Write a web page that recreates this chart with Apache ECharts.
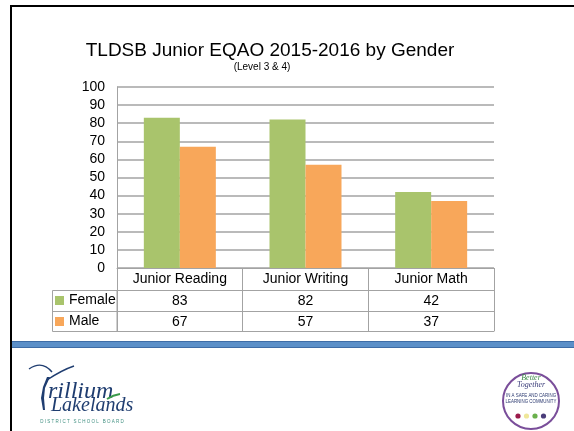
<!DOCTYPE html>
<html>
<head>
<meta charset="utf-8">
<script src="https://cdn.jsdelivr.net/npm/echarts@6/dist/echarts.min.js"></script>
<style>html,body{margin:0;padding:0;background:#fff;}#c{width:574px;height:431px;}</style>
</head>
<body>
<div id="c"></div>
<script>
const titleText = 'TLDSB Junior EQAO 2015-2016 by Gender';
const subtitleText = '(Level 3 & 4)';
const categories = ['Junior Reading', 'Junior Writing', 'Junior Math'];
const seriesNames = ['Female', 'Male'];
const female = [83, 82, 42];
const male = [67, 57, 37];
const yMin = 0, yMax = 100, yStep = 10;

const FONT = '"Liberation Sans", Arial, sans-serif';
const SERIF = '"Liberation Serif", "DejaVu Serif", serif';
const GRID = '#a3a3a3';
const chart = echarts.init(document.getElementById('c'), null, {renderer: 'canvas'});

function tableAxis(offset, values) {
  return {
    type: 'category', gridIndex: 0, position: 'bottom', offset: offset,
    data: categories,
    axisLine: {show: true, lineStyle: {color: GRID, width: 1}},
    axisTick: {show: false},
    axisLabel: {show: !!values, margin: 4, color: '#000', fontSize: 14, fontFamily: FONT,
      formatter: function (v, i) { return values ? String(values[i]) : ''; }},
    splitLine: {show: false}
  };
}

const option = {
  animation: false,
  backgroundColor: '#fff',
  textStyle: {fontFamily: FONT},
  grid: {left: 117, right: 80, top: 87, bottom: 163, containLabel: false},
  legend: {
    orient: 'vertical', left: 55, top: 293, padding: 0, itemGap: 6,
    itemWidth: 9, itemHeight: 9, icon: 'rect',
    textStyle: {color: '#000', fontSize: 14, fontFamily: FONT, lineHeight: 15},
    data: seriesNames
  },
  xAxis: [
    {
      type: 'category', data: categories,
      axisLine: {show: true, lineStyle: {color: GRID, width: 1}},
      axisTick: {show: true, length: 63, lineStyle: {color: GRID, width: 1}},
      axisLabel: {margin: 4, color: '#000', fontSize: 14, fontFamily: FONT},
      splitLine: {show: false}
    },
    tableAxis(22, female),
    tableAxis(43, male),
    tableAxis(63, null)
  ],
  yAxis: {
    type: 'value', min: yMin, max: yMax, interval: yStep,
    axisLine: {show: true, lineStyle: {color: GRID, width: 1}},
    axisTick: {show: false},
    axisLabel: {margin: 12, color: '#000', fontSize: 14, fontFamily: FONT},
    splitLine: {show: true, lineStyle: {color: GRID, width: 1.5}}
  },
  series: [
    {name: seriesNames[0], type: 'bar', data: female, barWidth: 36, barGap: '0%',
      itemStyle: {color: '#A9C46C'}},
    {name: seriesNames[1], type: 'bar', data: male, barWidth: 36, barGap: '0%',
      itemStyle: {color: '#F8A75A'}}
  ],
  graphic: [
    // frame
    {type: 'rect', shape: {x: 10, y: 5, width: 2, height: 426}, style: {fill: '#000'}, silent: true},
    {type: 'rect', shape: {x: 10, y: 5, width: 564, height: 2}, style: {fill: '#000'}, silent: true},
    // title
    {type: 'text', x: 270, y: 51, silent: true,
      style: {text: titleText, font: '19px ' + FONT, fill: '#000', align: 'center', verticalAlign: 'middle'}},
    {type: 'text', x: 262, y: 67, silent: true,
      style: {text: subtitleText, font: '10px ' + FONT, fill: '#000', align: 'center', verticalAlign: 'middle'}},
    // legend column of data table
    {type: 'rect', shape: {x: 52.5, y: 290.5, width: 64.5, height: 41}, style: {fill: 'none', stroke: GRID, lineWidth: 1}, silent: true},
    {type: 'line', shape: {x1: 52.5, y1: 311.5, x2: 117, y2: 311.5}, style: {stroke: GRID, lineWidth: 1}, silent: true},
    // blue band
    {type: 'rect', shape: {x: 12, y: 341, width: 562, height: 7}, style: {fill: '#5b8fc8'}, silent: true},
    {type: 'rect', shape: {x: 12, y: 341, width: 562, height: 1}, style: {fill: '#3d6ca6'}, silent: true},
    {type: 'rect', shape: {x: 12, y: 347, width: 562, height: 1}, style: {fill: '#3d6ca6'}, silent: true},
    // Trillium Lakelands logo
    {type: 'bezierCurve', silent: true, shape: {x1: 29, y1: 369, cpx1: 42, cpy1: 360, x2: 52, y2: 372},
      style: {fill: 'none', stroke: '#1f3d70', lineWidth: 1.4}},
    {type: 'bezierCurve', silent: true, shape: {x1: 47, y1: 380, cpx1: 62, cpy1: 370, x2: 74, y2: 366},
      style: {fill: 'none', stroke: '#1f3d70', lineWidth: 1.4}},
    {type: 'polygon', silent: true, shape: {points: [[47, 377], [43, 387], [41, 398], [43, 410], [45, 410], [44, 398], [45, 388], [50, 377]]},
      style: {fill: '#1f3d70'}},
    {type: 'text', x: 48, y: 392, silent: true,
      style: {text: 'rillium', font: 'italic 24px ' + SERIF, fill: '#1f3d70', align: 'left', verticalAlign: 'middle'}},
    {type: 'bezierCurve', silent: true, shape: {x1: 107, y1: 399, cpx1: 113, cpy1: 395, x2: 120, y2: 394},
      style: {fill: 'none', stroke: '#3a9a4a', lineWidth: 1.8}},
    {type: 'text', x: 51, y: 406, silent: true,
      style: {text: 'Lakelands', font: 'italic 20px ' + SERIF, fill: '#1f3d70', align: 'left', verticalAlign: 'middle'}},
    {type: 'text', x: 82, y: 422, silent: true,
      style: {text: 'D I S T R I C T   S C H O O L   B O A R D', font: '4.5px ' + FONT, fill: '#3f8f80', align: 'center', verticalAlign: 'middle'}},
    // Better Together logo
    {type: 'circle', silent: true, shape: {cx: 531, cy: 401, r: 28}, style: {fill: '#fff', stroke: '#7a4e9a', lineWidth: 2}},
    {type: 'text', x: 531, y: 378, silent: true,
      style: {text: 'Better', font: 'italic 8px ' + SERIF, fill: '#3e8a4a', align: 'center', verticalAlign: 'middle'}},
    {type: 'text', x: 531, y: 385, silent: true,
      style: {text: 'Together', font: 'italic 8px ' + SERIF, fill: '#3b3d7a', align: 'center', verticalAlign: 'middle'}},
    {type: 'text', x: 531, y: 395, scaleX: 0.8, silent: true,
      style: {text: 'IN A SAFE AND CARING', font: '5.5px ' + FONT, fill: '#2c3a70', align: 'center', verticalAlign: 'middle'}},
    {type: 'text', x: 531, y: 401, scaleX: 0.8, silent: true,
      style: {text: 'LEARNING COMMUNITY', font: '5.5px ' + FONT, fill: '#2c3a70', align: 'center', verticalAlign: 'middle'}},
    {type: 'circle', silent: true, shape: {cx: 518, cy: 416, r: 2.6}, style: {fill: '#9b1b4b'}},
    {type: 'circle', silent: true, shape: {cx: 526.5, cy: 416, r: 2.6}, style: {fill: '#efe79a'}},
    {type: 'circle', silent: true, shape: {cx: 535, cy: 416, r: 2.6}, style: {fill: '#6ab04c'}},
    {type: 'circle', silent: true, shape: {cx: 543.5, cy: 416, r: 2.6}, style: {fill: '#4b3d7a'}}
  ]
};
chart.setOption(option);
</script>
</body>
</html>
